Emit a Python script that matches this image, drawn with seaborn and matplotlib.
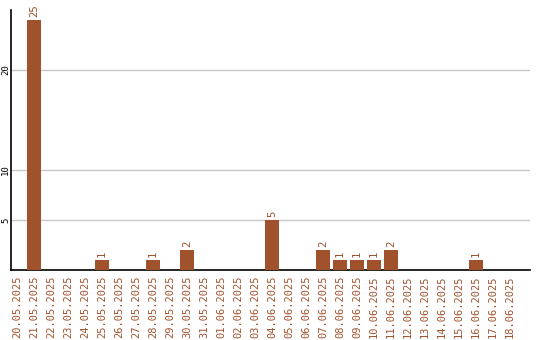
import matplotlib
matplotlib.use("Agg")
import matplotlib.pyplot as plt
import seaborn as sns
import pandas as pd

dates = ["20.05.2025", "21.05.2025", "22.05.2025", "23.05.2025", "24.05.2025",
         "25.05.2025", "26.05.2025", "27.05.2025", "28.05.2025", "29.05.2025",
         "30.05.2025", "31.05.2025", "01.06.2025", "02.06.2025", "03.06.2025",
         "04.06.2025", "05.06.2025", "06.06.2025", "07.06.2025", "08.06.2025",
         "09.06.2025", "10.06.2025", "11.06.2025", "12.06.2025", "13.06.2025",
         "14.06.2025", "15.06.2025", "16.06.2025", "17.06.2025", "18.06.2025"]
counts = [0, 25, 0, 0, 0, 1, 0, 0, 1, 0,
          2, 0, 0, 0, 0, 5, 0, 0, 2, 1,
          1, 1, 2, 0, 0, 0, 0, 1, 0, 0]
y_ticks = [5, 10, 20]

BROWN = "#a0522d"

sns.set_style("white")
plt.rcParams["font.family"] = ["DejaVu Sans Mono"]

df = pd.DataFrame({"date": dates, "count": counts})

fig = plt.figure(figsize=(5.4, 3.4), dpi=100)
ax = fig.add_axes([11 / 540, 70 / 340, 519 / 540, 260 / 340])

sns.barplot(data=df, x="date", y="count", color=BROWN, saturation=1,
            width=0.82, linewidth=0, ax=ax, zorder=3)

ax.set_xlim(-0.35, 30.18)
ax.set_ylim(0, 26)
ax.set_yticks(y_ticks)
ax.set_yticklabels([str(t) for t in y_ticks], rotation=90, va="center",
                   fontsize=6.5, color="black")
ax.yaxis.grid(True, color="#c8c8c8", linewidth=1, zorder=0)
ax.set_axisbelow(True)
ax.tick_params(axis="both", length=0)
ax.tick_params(axis="y", pad=0.5)
ax.tick_params(axis="x", pad=4)
plt.setp(ax.get_xticklabels(), rotation=90, fontsize=7.5, color=BROWN)

ax.set_xlabel("")
ax.set_ylabel("")
for side in ("top", "right"):
    ax.spines[side].set_visible(False)
for side in ("left", "bottom"):
    ax.spines[side].set_color("black")
    ax.spines[side].set_linewidth(1.2)

for i, v in enumerate(counts):
    if v > 0:
        ax.annotate(str(v), (i, v), xytext=(0, 2), textcoords="offset points",
                    rotation=90, ha="center", va="bottom", fontsize=7.7,
                    color=BROWN)

fig.savefig("out.png", dpi=100)
